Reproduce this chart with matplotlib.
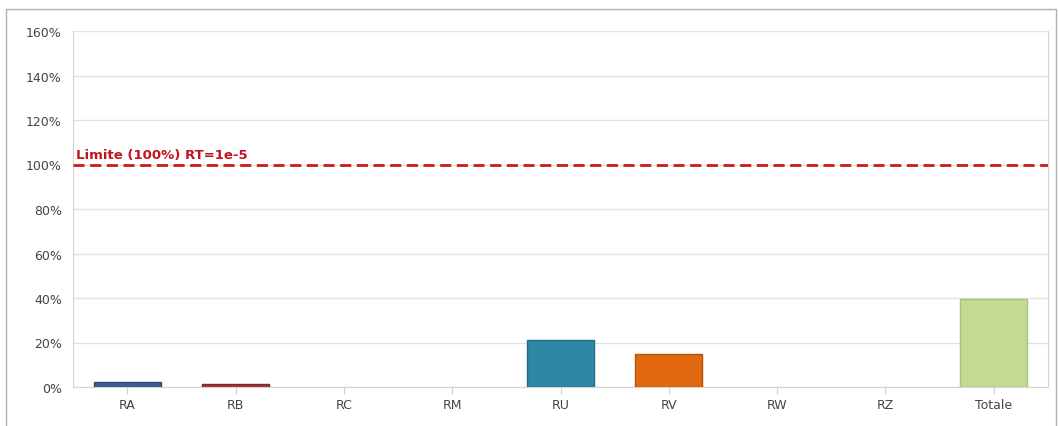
import numpy as np
import matplotlib
matplotlib.use("Agg")
import matplotlib.pyplot as plt
from matplotlib.patches import Rectangle
from matplotlib.ticker import FuncFormatter

categories = ["RA", "RB", "RC", "RM", "RU", "RV", "RW", "RZ", "Totale"]
values = [2.2, 1.3, 0.0, 0.0, 21.0, 14.8, 0.0, 0.0, 39.5]
colors = ["#3b5f95", "#a53a3a", "#888888", "#888888", "#2e88a4",
          "#e2690f", "#888888", "#888888", "#c4da92"]
edges = ["#2c4a76", "#7e2626", "#888888", "#888888", "#236d85",
         "#b65308", "#888888", "#888888", "#a9c27c"]
limit = 100
limit_label = "Limite (100%) RT=1e-5"
yticks = [0, 20, 40, 60, 80, 100, 120, 140, 160]


def main():
    fig = plt.figure(figsize=(10.59, 4.27), dpi=100)
    fig.patches.append(Rectangle((6 / 1059, -0.01), 1050 / 1059, 1 - 10 / 427 + 0.01,
                                 transform=fig.transFigure, fill=False,
                                 edgecolor="#b0b0b0", linewidth=1))
    ax = fig.add_axes([73 / 1059, 39 / 427, 975 / 1059, 356 / 427])

    x = np.arange(len(categories))
    # bars at zero are not drawn at all in the original
    lw = [1 if v > 0 else 0 for v in values]
    ax.bar(x, values, width=0.62, color=colors, edgecolor=edges, linewidth=lw, zorder=3)

    ax.axhline(limit, color="#cc1a1a", linestyle=(0, (4, 2)), linewidth=2, zorder=4)
    ax.text(-0.47, limit + 1.5, limit_label, color="#c0141e", fontsize=9.5,
            fontweight="bold", ha="left", va="bottom", zorder=5)

    ax.set_xlim(-0.5, len(categories) - 0.5)
    ax.set_ylim(0, 160)
    ax.set_yticks(yticks)
    ax.yaxis.set_major_formatter(FuncFormatter(lambda v, p: "%d%%" % v))
    ax.set_xticks(x)
    ax.set_xticklabels(categories)
    ax.grid(axis="y", color="#e2e2e2", linewidth=1, zorder=0)

    ax.spines["top"].set_visible(False)
    for s in ["left", "bottom", "right"]:
        ax.spines[s].set_color("#d4d4d4")
    ax.tick_params(axis="y", length=0, pad=8, labelsize=9, labelcolor="#444444")
    ax.tick_params(axis="x", length=5, color="#d0d0d0", pad=3, labelsize=9,
                   labelcolor="#444444")

    fig.savefig("out.png", dpi=100)


if __name__ == "__main__":
    main()
